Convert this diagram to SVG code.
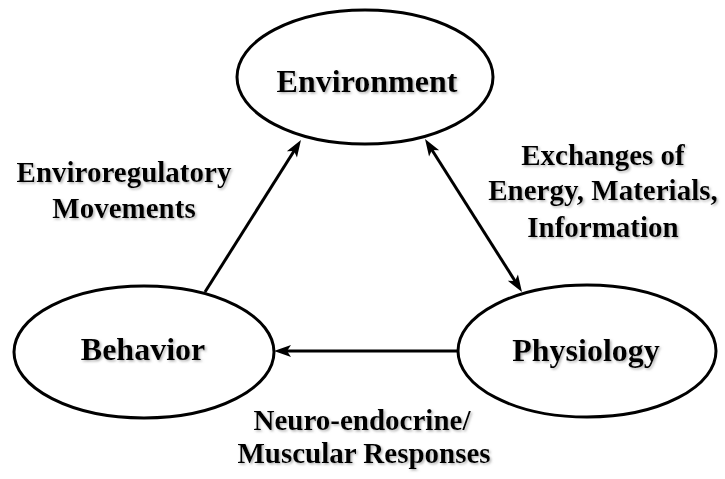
<svg xmlns="http://www.w3.org/2000/svg" width="725" height="479" viewBox="0 0 725 479">
  <style>
    .node { fill: #ffffff; stroke: #000000; stroke-width: 3; }
    .title { font-family: "Liberation Serif", "Times New Roman", serif; font-weight: bold; font-size: 32px; fill: #000000; text-anchor: middle; }
    .label { font-family: "Liberation Serif", "Times New Roman", serif; font-weight: bold; font-size: 29px; fill: #000000; text-anchor: middle; }
    .edge { fill: none; stroke: #000000; stroke-width: 3; }
    text { filter: url(#soft); }
  </style>
  <defs>
    <filter id="soft" x="-10%" y="-30%" width="120%" height="160%">
      <feDropShadow dx="1.5" dy="1.5" stdDeviation="1" flood-color="#808080" flood-opacity="0.6"/>
    </filter>
    <marker id="arrow" markerUnits="userSpaceOnUse" markerWidth="24" markerHeight="16" viewBox="-12 -8 24 16" refX="0" refY="0" orient="auto-start-reverse">
      <path d="M8,0 L-9,-6 L-5,0 L-9,6 Z" fill="#000000"/>
    </marker>
  </defs>

  <g id="connectors">
    <path class="edge" d="M205,292 L296.7,146.8" marker-end="url(#arrow)"/>
    <path class="edge" d="M429.3,145.8 L517.7,285.2" marker-start="url(#arrow)" marker-end="url(#arrow)"/>
    <path class="edge" d="M458,351 L282,351" marker-end="url(#arrow)"/>
  </g>

  <g id="environment">
    <ellipse class="node" cx="365" cy="77" rx="128" ry="67"/>
    <text class="title" x="367" y="92">Environment</text>
  </g>

  <g id="behavior">
    <ellipse class="node" cx="144" cy="352" rx="130" ry="66"/>
    <text class="title" x="143" y="360">Behavior</text>
  </g>

  <g id="physiology">
    <ellipse class="node" cx="587" cy="351" rx="129" ry="66"/>
    <text class="title" x="586" y="361">Physiology</text>
  </g>

  <g id="labels">
    <text class="label" x="124" y="182">Enviroregulatory</text>
    <text class="label" x="124" y="218">Movements</text>
    <text class="label" x="603" y="165">Exchanges of</text>
    <text class="label" x="603" y="200">Energy, Materials,</text>
    <text class="label" x="603" y="237">Information</text>
    <text class="label" x="362" y="430">Neuro-endocrine/</text>
    <text class="label" x="364" y="463">Muscular Responses</text>
  </g>
</svg>
